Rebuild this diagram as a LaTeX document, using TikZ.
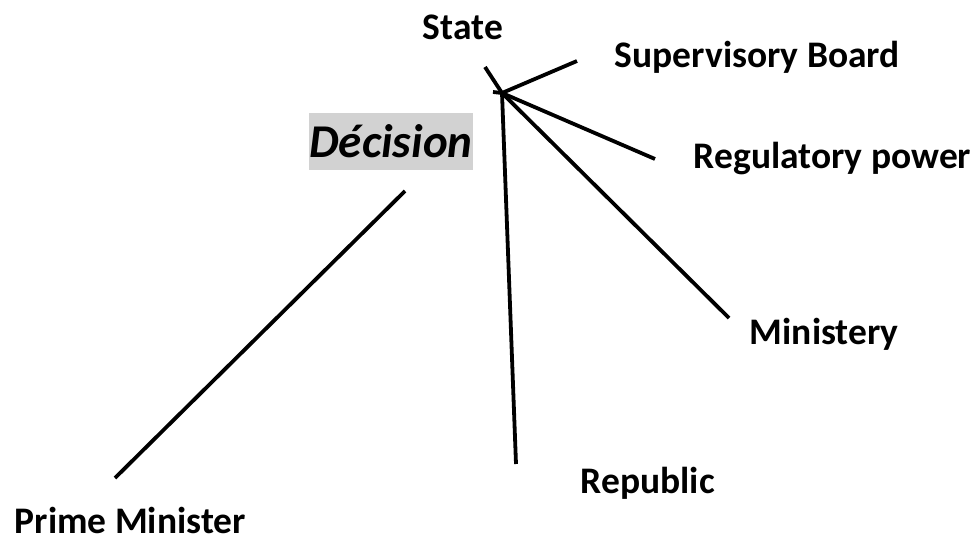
\documentclass[tikz,border=0pt]{standalone}
\usepackage{fontspec}
\setmainfont{Carlito}
\usepackage{xcolor}
\usetikzlibrary{positioning}

\begin{document}
\begin{tikzpicture}[x=1pt, y=-1pt, line width=3.8pt,
    lbl/.style={font=\fontsize{37.5}{42}\selectfont\bfseries, inner sep=0pt, anchor=base west}]
    \useasboundingbox (0,0) rectangle (977,543);

    % Labels
    \node[lbl] (state) at (421,40) {State};
    \node[lbl] (board) at (613,67) {Supervisory Board};
    \node[lbl] (power) at (692,168) {Regulatory power};
    \node[lbl] (mini) at (748,344) {Ministery};
    \node[lbl] (rep) at (579,493) {Republic};
    \node[lbl] (pm) at (13,533) {Prime Minister};

    % Decision box
    \node[fill=gray!35, minimum width=164pt, minimum height=57pt, inner sep=0pt,
          font=\fontsize{47}{50}\selectfont\bfseries\itshape] (dec) at (391,141) {Décision};

    % Line ends
    \coordinate (hub) at (502,93);
    \coordinate (top) at (485,67);
    \coordinate (tick) at (493,92);
    \coordinate (boardE) at (577,61);
    \coordinate (powerE) at (655,159);
    \coordinate (miniE) at (729,318);
    \coordinate (repE) at (516,464);
    \coordinate (pmE) at (115,478);
    \coordinate (decE) at (405,191);

    % Lines
    \draw (top) -- (hub);
    \draw (tick) -- (hub);
    \draw (hub) -- (boardE);
    \draw (hub) -- (powerE);
    \draw (hub) -- (miniE);
    \draw (hub) -- (repE);
    \draw (decE) -- (pmE);

\end{tikzpicture}
\end{document}
